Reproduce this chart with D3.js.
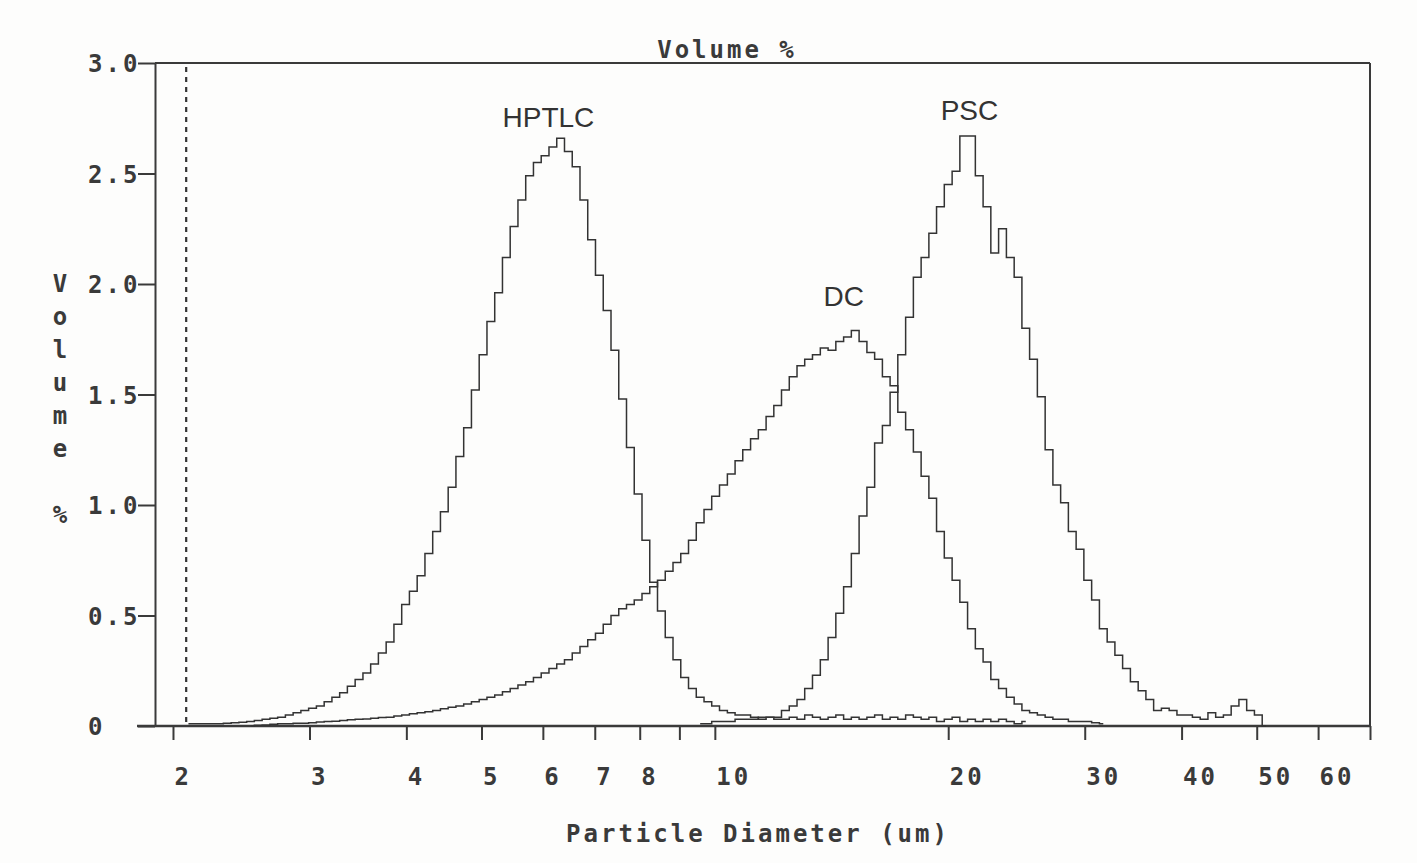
<!DOCTYPE html>
<html>
<head>
<meta charset="utf-8">
<script src="https://cdn.jsdelivr.net/npm/d3@7"></script>
<style>
  body { margin: 0; background: #fff; }
  svg { display: block; }
</style>
</head>
<body>
<div id="chart"></div>
<script>
// bin diameters (um) of the analyser, log-spaced
const diameters = [
  2.000, 2.047, 2.094, 2.143, 2.193, 2.244, 2.296, 2.350, 2.405, 2.461,
  2.518, 2.576, 2.637, 2.698, 2.761, 2.825, 2.891, 2.958, 3.027, 3.098,
  3.170, 3.244, 3.319, 3.396, 3.476, 3.557, 3.639, 3.724, 3.811, 3.900,
  3.991, 4.083, 4.179, 4.276, 4.376, 4.477, 4.582, 4.688, 4.798, 4.909,
  5.024, 5.141, 5.261, 5.383, 5.508, 5.637, 5.768, 5.902, 6.040, 6.181,
  6.325, 6.472, 6.623, 6.777, 6.935, 7.096, 7.262, 7.431, 7.604, 7.781,
  7.962, 8.148, 8.337, 8.532, 8.730, 8.934, 9.142, 9.355, 9.573, 9.796,
  10.02, 10.26, 10.50, 10.74, 10.99, 11.25, 11.51, 11.78, 12.05, 12.33,
  12.62, 12.91, 13.21, 13.52, 13.84, 14.16, 14.49, 14.83, 15.17, 15.53,
  15.89, 16.26, 16.64, 17.02, 17.42, 17.83, 18.24, 18.67, 19.10, 19.54,
  20.00, 20.47, 20.94, 21.43, 21.93, 22.44, 22.96, 23.50, 24.05, 24.61,
  25.18, 25.76, 26.37, 26.98, 27.61, 28.25, 28.91, 29.58, 30.27, 30.98,
  31.70, 32.44, 33.19, 33.96, 34.76, 35.57, 36.39, 37.24, 38.11, 39.00,
  39.91, 40.83, 41.79, 42.76, 43.76, 44.77, 45.82, 46.88, 47.98, 49.09,
  50.24, 51.41, 52.61
];

// Volume % per bin; each series starts at the given bin index
const hptlcFrom = 2;
const hptlc = [
  0.01, 0.01, 0.01, 0.01, 0.01, 0.012, 0.015, 0.017,
  0.02, 0.025, 0.03, 0.035, 0.04, 0.05, 0.06, 0.07, 0.08, 0.09,
  0.11, 0.13, 0.15, 0.18, 0.21, 0.24, 0.28, 0.33, 0.38, 0.46,
  0.55, 0.61, 0.68, 0.78, 0.88, 0.97, 1.08, 1.22, 1.35, 1.52,
  1.68, 1.83, 1.96, 2.12, 2.26, 2.38, 2.49, 2.55, 2.58, 2.62,
  2.66, 2.60, 2.53, 2.38, 2.20, 2.04, 1.88, 1.70, 1.48, 1.26,
  1.05, 0.84, 0.65, 0.52, 0.40, 0.30, 0.22, 0.17, 0.13, 0.11,
  0.09, 0.07, 0.06, 0.05, 0.05, 0.04, 0.03, 0.04, 0.03, 0.03,
  0.04, 0.03, 0.05, 0.04, 0.03, 0.04, 0.05, 0.03, 0.04, 0.03,
  0.04, 0.05, 0.03, 0.04, 0.03, 0.05, 0.04, 0.03, 0.04, 0.02,
  0.03, 0.04, 0.02, 0.03, 0.02, 0.03, 0.02, 0.03, 0.02, 0.01, 0.02
];

const dcFrom = 10;
const dc = [
  0.0, 0.003, 0.005, 0.008, 0.01, 0.01, 0.012, 0.013, 0.015, 0.018,
  0.02, 0.022, 0.025, 0.028, 0.03, 0.032, 0.035, 0.038, 0.04, 0.045,
  0.05, 0.055, 0.06, 0.065, 0.07, 0.078, 0.085, 0.09, 0.10, 0.11,
  0.12, 0.13, 0.14, 0.155, 0.17, 0.185, 0.20, 0.22, 0.24, 0.26,
  0.28, 0.30, 0.33, 0.36, 0.39, 0.42, 0.46, 0.50, 0.53, 0.55,
  0.57, 0.60, 0.63, 0.66, 0.70, 0.74, 0.78, 0.84, 0.92, 0.98,
  1.04, 1.09, 1.14, 1.20, 1.25, 1.30, 1.34, 1.40, 1.45, 1.52,
  1.58, 1.63, 1.66, 1.68, 1.71, 1.70, 1.74, 1.76, 1.79, 1.74,
  1.69, 1.66, 1.58, 1.54, 1.42, 1.34, 1.24, 1.13, 1.03, 0.88,
  0.76, 0.66, 0.56, 0.44, 0.35, 0.29, 0.21, 0.17, 0.13, 0.10,
  0.07, 0.06, 0.05, 0.04, 0.03, 0.03, 0.02, 0.02, 0.02, 0.015, 0.01
];

const pscFrom = 68;
const psc = [
  0.01, 0.01,
  0.02, 0.02, 0.02, 0.03, 0.03, 0.03, 0.04, 0.04, 0.04, 0.07,
  0.09, 0.12, 0.17, 0.23, 0.30, 0.40, 0.51, 0.63, 0.78, 0.95,
  1.08, 1.28, 1.36, 1.51, 1.68, 1.85, 2.03, 2.12, 2.23, 2.35,
  2.45, 2.51, 2.67, 2.67, 2.49, 2.35, 2.14, 2.25, 2.12, 2.03,
  1.80, 1.66, 1.49, 1.25, 1.09, 1.01, 0.88, 0.80, 0.66, 0.57,
  0.44, 0.38, 0.32, 0.26, 0.20, 0.16, 0.12, 0.07, 0.08, 0.07,
  0.05, 0.05, 0.04, 0.03, 0.06, 0.04, 0.05, 0.09, 0.12, 0.07,
  0.05, 0.0
];

const xTicks = [2, 3, 4, 5, 6, 7, 8, 9, 10, 20, 30, 40, 50, 60, 70];
const xTickLabels = ['2', '3', '4', '5', '6', '7', '8', '', '10', '20', '30', '40', '50', '60', ''];
const yTicks = [0, 0.5, 1, 1.5, 2, 2.5, 3];
const yTickLabels = ['0', '0.5', '1.0', '1.5', '2.0', '2.5', '3.0'];

const seriesNames = ['HPTLC', 'DC', 'PSC'];
const seriesValues = [hptlc, dc, psc];
const seriesFrom = [hptlcFrom, dcFrom, pscFrom];
// label anchor in data units: [diameter, volume %]
const labelAnchors = [[6.10, 2.71], [14.66, 1.90], [21.3, 2.74]];

const cutoffDiameter = 2.08;

const W = 1417, H = 863;
const monoFont = "'DejaVu Sans Mono', 'Liberation Mono', monospace";
const ink = '#3a3a3a';

const svg = d3.select('#chart').append('svg')
  .attr('width', W).attr('height', H)
  .attr('viewBox', [0, 0, W, H]);

svg.append('rect').attr('width', W).attr('height', H).attr('fill', '#fdfdfc');

const x = d3.scaleLog().domain([1.896, 70]).range([155, 1370]);
const y = d3.scaleLinear().domain([0, 3]).range([726, 63]);

// frame: top and right edges
svg.append('line')
  .attr('x1', x.range()[0]).attr('x2', x.range()[1])
  .attr('y1', y(3)).attr('y2', y(3))
  .attr('stroke', ink).attr('stroke-width', 2);
svg.append('line')
  .attr('x1', x.range()[1]).attr('x2', x.range()[1])
  .attr('y1', y(3)).attr('y2', y(0))
  .attr('stroke', ink).attr('stroke-width', 2);

// dashed cut-off marker
svg.append('line')
  .attr('x1', x(cutoffDiameter)).attr('x2', x(cutoffDiameter))
  .attr('y1', y(3) + 4).attr('y2', y(0))
  .attr('stroke', '#333').attr('stroke-width', 2.2)
  .attr('stroke-dasharray', '5,5');

// x axis
const xAxis = d3.axisBottom(x)
  .tickValues(xTicks)
  .tickSize(14)
  .tickSizeOuter(0)
  .tickFormat((d, i) => xTickLabels[i]);

const gx = svg.append('g')
  .attr('transform', `translate(0,${y(0)})`)
  .call(xAxis);
gx.select('.domain').remove();
gx.selectAll('.tick line').attr('stroke', ink).attr('stroke-width', 2);
gx.selectAll('.tick text')
  .attr('text-anchor', 'start')
  .attr('x', 1).attr('y', 59).attr('dy', 0)
  .attr('fill', ink)
  .style('font-family', monoFont).style('font-size', '24px')
  .style('font-weight', 'bold').style('letter-spacing', '3px');

svg.append('line')
  .attr('x1', 137).attr('x2', x.range()[1])
  .attr('y1', y(0)).attr('y2', y(0))
  .attr('stroke', ink).attr('stroke-width', 2.5);

// y axis
const yAxis = d3.axisLeft(y)
  .tickValues(yTicks)
  .tickSize(17)
  .tickSizeOuter(0)
  .tickFormat((d, i) => yTickLabels[i]);

const gy = svg.append('g')
  .attr('transform', `translate(${x.range()[0]},0)`)
  .call(yAxis);
gy.select('.domain').attr('stroke', ink).attr('stroke-width', 2);
gy.selectAll('.tick line').attr('stroke', ink).attr('stroke-width', 2);
gy.selectAll('.tick text')
  .attr('text-anchor', 'start')
  .attr('x', 88 - x.range()[0]).attr('dy', '0.36em')
  .attr('fill', ink)
  .style('font-family', monoFont).style('font-size', '24px')
  .style('font-weight', 'bold').style('letter-spacing', '3px');

// titles
svg.append('text')
  .attr('x', 727).attr('y', 58)
  .attr('text-anchor', 'middle')
  .attr('fill', ink)
  .style('font-family', monoFont).style('font-size', '24px')
  .style('font-weight', 'bold').style('letter-spacing', '3px')
  .text('Volume %');

svg.append('text')
  .attr('x', 758).attr('y', 842)
  .attr('text-anchor', 'middle')
  .attr('fill', ink)
  .style('font-family', monoFont).style('font-size', '24px')
  .style('font-weight', 'bold').style('letter-spacing', '3px')
  .text('Particle Diameter (um)');

// vertical y label, one glyph per line
svg.append('g').selectAll('text')
  .data('Volume %'.split(''))
  .join('text')
  .attr('x', 60)
  .attr('y', (d, i) => 283 + i * 33)
  .attr('text-anchor', 'middle')
  .attr('dy', '0.36em')
  .attr('fill', ink)
  .style('font-family', monoFont).style('font-size', '24px')
  .style('font-weight', 'bold')
  .text(d => d);

// step curves
const line = d3.line()
  .x(d => x(d.d))
  .y(d => y(d.v))
  .curve(d3.curveStep);

seriesValues.forEach((vals, si) => {
  const pts = vals.map((v, i) => ({ d: diameters[seriesFrom[si] + i], v }));
  svg.append('path')
    .datum(pts)
    .attr('fill', 'none')
    .attr('stroke', '#333')
    .attr('stroke-width', 1.5)
    .attr('d', line);
});

// peak labels
svg.append('g').selectAll('text')
  .data(seriesNames)
  .join('text')
  .attr('x', (d, i) => x(labelAnchors[i][0]))
  .attr('y', (d, i) => y(labelAnchors[i][1]))
  .attr('text-anchor', 'middle')
  .attr('fill', '#333')
  .style('font-family', "'Liberation Sans', Arial, sans-serif")
  .style('font-size', '28px')
  .text(d => d);
</script>
</body>
</html>
